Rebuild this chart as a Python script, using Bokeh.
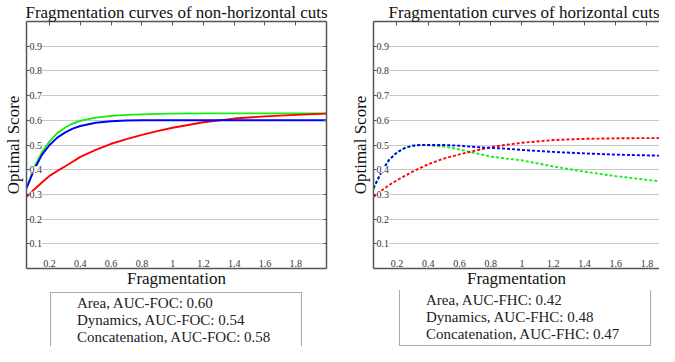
from bokeh.plotting import figure
from bokeh.layouts import row, column
from bokeh.models import (Range1d, FixedTicker, LinearAxis, Legend, LegendItem,
                          CustomJSTickFormatter)
from bokeh.core.properties import value
from bokeh.embed import file_html
from bokeh.resources import INLINE

# ---------------- data ----------------
frag = [0.05, 0.1, 0.15, 0.2, 0.25, 0.3, 0.35, 0.4, 0.5, 0.6, 0.7, 0.8,
        0.9, 1.0, 1.2, 1.4, 1.6, 1.8, 2.0]

foc_area = [0.325, 0.41, 0.47, 0.515, 0.548, 0.57, 0.587, 0.598, 0.611, 0.618,
            0.622, 0.624, 0.626, 0.627, 0.628, 0.628, 0.628, 0.628, 0.628]
foc_dynamics = [0.29, 0.32, 0.348, 0.375, 0.395, 0.413, 0.432, 0.452, 0.48, 0.505,
                0.524, 0.541, 0.556, 0.57, 0.592, 0.607, 0.616, 0.622, 0.627]
foc_concat = [0.325, 0.40, 0.46, 0.50, 0.53, 0.55, 0.566, 0.577, 0.59, 0.596,
              0.599, 0.60, 0.60, 0.60, 0.60, 0.60, 0.60, 0.60, 0.60]

fhc_area = [0.325, 0.39, 0.44, 0.47, 0.488, 0.497, 0.50, 0.499, 0.494, 0.482,
            0.467, 0.453, 0.445, 0.438, 0.413, 0.392, 0.374, 0.359, 0.345]
fhc_dynamics = [0.29, 0.315, 0.338, 0.357, 0.375, 0.392, 0.407, 0.422, 0.445, 0.462,
                0.477, 0.491, 0.501, 0.509, 0.52, 0.525, 0.527, 0.528, 0.528]
fhc_concat = [0.325, 0.39, 0.44, 0.47, 0.488, 0.497, 0.50, 0.50, 0.50, 0.497,
              0.492, 0.488, 0.485, 0.48, 0.472, 0.466, 0.461, 0.458, 0.455]

foc_labels = ["Area, AUC-FOC: 0.60", "Dynamics, AUC-FOC: 0.54",
              "Concatenation, AUC-FOC: 0.58"]
fhc_labels = ["Area, AUC-FHC: 0.42", "Dynamics, AUC-FHC: 0.48",
              "Concatenation, AUC-FHC: 0.47"]
titles = ["Fragmentation curves of non-horizontal cuts",
          "Fragmentation curves of horizontal cuts"]

xticks = [0.2, 0.4, 0.6, 0.8, 1.0, 1.2, 1.4, 1.6, 1.8]
xtick_labels = ["0.2", "0.4", "0.6", "0.8", "1", "1.2", "1.4", "1.6", "1.8"]
yticks = [0.1, 0.2, 0.3, 0.4, 0.5, 0.6, 0.7, 0.8, 0.9]
ytick_labels = ["0.1", "0.2", "0.3", "0.4", "0.5", "0.6", "0.7", "0.8", "0.9"]
x_start = 0.05
y_start, y_end = 0.0, 1.0

colors = ["#11ee11", "#ff0000", "#0000ff"]
SERIF = "Liberation Serif"
FRAME = "#555555"


def style_axis(ax, tick_in):
    ax.axis_line_color = FRAME
    ax.axis_line_width = 1.5
    ax.major_tick_line_color = FRAME
    ax.minor_tick_line_color = None
    ax.major_tick_out = 0
    ax.major_tick_in = tick_in
    ax.major_label_standoff = 0
    ax.major_label_text_font_size = "0px"
    ax.formatter = CustomJSTickFormatter(code="return ''")
    ax.axis_label_text_font = SERIF
    ax.axis_label_text_font_style = "normal"
    ax.axis_label_text_font_size = "17px"
    ax.axis_label_text_color = "#111111"


def make_fig(title, series, dash, width, bl, br, xend, right_axis, title_align):
    p = figure(width=width, height=290, x_range=Range1d(x_start, xend),
               y_range=Range1d(y_start, y_end), output_backend="svg",
               toolbar_location=None, min_border_left=bl, min_border_right=br,
               min_border_top=17, min_border_bottom=18)
    p.outline_line_color = None
    p.title.text = title
    p.title.text_font = SERIF
    p.title.text_font_size = "17px"
    p.title.text_font_style = "normal"
    p.title.text_color = "#111111"
    p.title.align = title_align
    p.title.offset = 0
    p.title.standoff = 0

    xa = p.xaxis[0]
    xa.ticker = FixedTicker(ticks=xticks)
    style_axis(xa, 0)
    xa.axis_label = "Fragmentation"
    xa.axis_label_standoff = 0

    ya = p.yaxis[0]
    ya.ticker = FixedTicker(ticks=yticks)
    style_axis(ya, 3)
    ya.axis_label = "Optimal Score"
    ya.axis_label_standoff = 4

    top = LinearAxis(ticker=FixedTicker(ticks=xticks))
    style_axis(top, 4)
    p.add_layout(top, "above")
    if right_axis:
        rgt = LinearAxis(ticker=FixedTicker(ticks=yticks))
        style_axis(rgt, 3)
        p.add_layout(rgt, "right")

    p.xgrid.visible = False
    p.ygrid.grid_line_color = "#c8c8c8"
    p.ygrid.grid_line_width = 1

    for ys, c in zip(series, colors):
        p.line(frag, ys, line_color=c, line_width=1.9, line_dash=dash)

    # tick labels drawn inside the frame, as in the reference
    p.text(x=xticks, y=[y_start] * len(xticks), text=xtick_labels,
           text_font=value(SERIF), text_font_size="10px", text_color="#333333",
           text_align="center", text_baseline="alphabetic", y_offset=-5)
    p.text(x=[x_start] * len(yticks), y=yticks, text=ytick_labels,
           text_font=value(SERIF), text_font_size="10px", text_color="#333333",
           text_align="left", text_baseline="middle", x_offset=3,
           background_fill_color="white")
    return p


def make_legend_fig(labels, dash, width, bl, br, loc, margin):
    q = figure(width=width, height=56, x_range=Range1d(0, 1),
               y_range=Range1d(0, 1), x_axis_type=None, y_axis_type=None,
               output_backend="svg", toolbar_location=None,
               min_border_left=bl, min_border_right=br, min_border_top=0,
               min_border_bottom=0)
    q.outline_line_color = None
    items = []
    for lab, c in zip(labels, colors):
        r = q.line(x=[], y=[], line_color=c, line_width=1.9, line_dash=dash)
        items.append(LegendItem(label=lab, renderers=[r]))
    leg = Legend(items=items, location=loc, orientation="vertical",
                 label_text_font=SERIF, label_text_font_size="15px",
                 label_text_color="#222222",
                 padding=2, spacing=0, margin=margin,
                 border_line_color=FRAME, border_line_width=1.5,
                 glyph_width=18, glyph_height=16, label_height=16,
                 label_width=222, label_standoff=6)
    q.add_layout(leg, "center")
    return q


p1 = make_fig(titles[0], [foc_area, foc_dynamics, foc_concat],
              "solid", 340, 22, 14, 2.0, True, "center")
p2 = make_fig(titles[1], [fhc_area, fhc_dynamics, fhc_concat],
              "3 2", 319, 33, 0, 1.880, False, "right")
l1 = make_legend_fig(foc_labels, "solid", 340, 22, 14, "top_center", 2)
l2 = make_legend_fig(fhc_labels, "3 2", 319, 33, 0, (26, 0), 0)

layout = row(column(p1, l1), column(p2, l2))
open("out.html", "w").write(file_html(layout, INLINE))
